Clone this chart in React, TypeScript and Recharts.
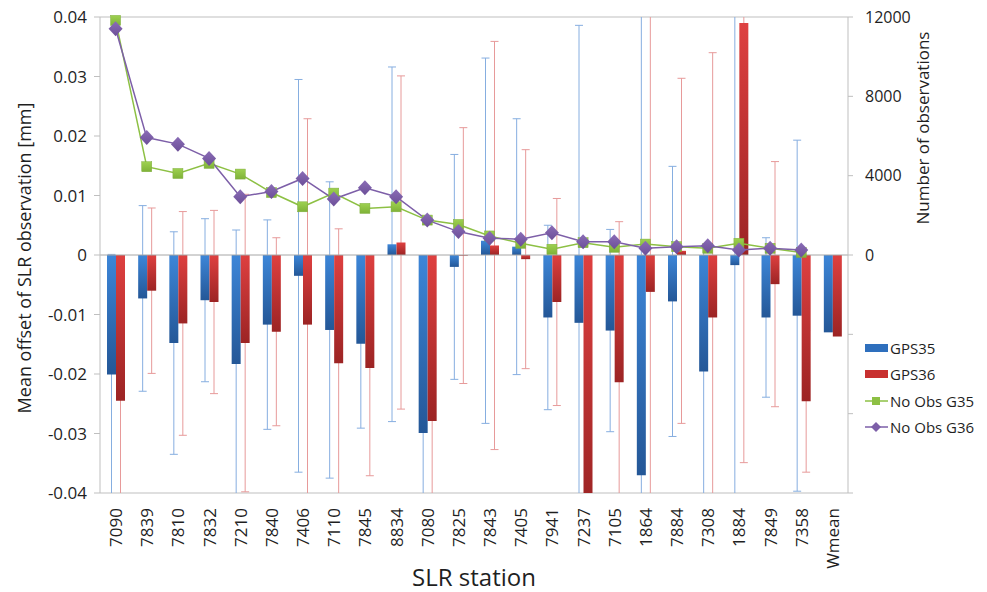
import React from 'react';
import {
  ComposedChart,
  Bar,
  Line,
  XAxis,
  YAxis,
  CartesianGrid,
  ReferenceLine,
  ErrorBar,
  Label,
} from 'recharts';

const stations = [
  '7090', '7839', '7810', '7832', '7210', '7840', '7406', '7110', '7845', '8834', '7080', '7825',
  '7843', '7405', '7941', '7237', '7105', '1864', '7884', '7308', '1884', '7849', '7358', 'Wmean',
];

// mean offsets [mm]
const gps35 = [
  -0.0201, -0.0073, -0.0148, -0.0076, -0.0183, -0.0117, -0.0035, -0.0126, -0.0149, 0.0018, -0.0299, -0.002,
  0.0024, 0.0014, -0.0105, -0.0114, -0.0127, -0.037, -0.0078, -0.0196, -0.0017, -0.0105, -0.0102, -0.013,
];
const gps36 = [
  -0.0245, -0.006, -0.0115, -0.0079, -0.0148, -0.0129, -0.0117, -0.0182, -0.019, 0.0021, -0.0279, -0.0001,
  0.0016, -0.0007, -0.0079, -0.042, -0.0214, -0.0062, 0.0007, -0.0105, 0.039, -0.0049, -0.0246, -0.0137,
];

// std dev (error bars)
const err35 = [
  0.0202, 0.0156, 0.0187, 0.0137, 0.0225, 0.0176, 0.033, 0.0249, 0.0142, 0.0298, 0.02, 0.0189,
  0.0307, 0.0215, 0.0155, 0.05, 0.017, 0.08, 0.0227, 0.021, 0.045, 0.0134, 0.0295, null,
];
const err36 = [
  0.02, 0.0139, 0.0188, 0.0154, 0.025, 0.0158, 0.0346, 0.0226, 0.0181, 0.028, 0.02, 0.0215,
  0.0343, 0.0184, 0.0174, 0.02, 0.027, 0.05, 0.029, 0.0445, 0.0739, 0.0206, 0.0119, null,
];

// number of observations
const obs35 = [
  11830, 4450, 4110, 4620, 4080, 3150, 2430, 3120, 2350, 2430, 1760, 1540,
  960, 590, 290, 620, 390, 550, 420, 340, 590, 340, 130, null,
];
const obs36 = [
  11410, 5920, 5590, 4870, 2940, 3200, 3860, 2820, 3390, 2940, 1760, 1180,
  840, 800, 1120, 670, 670, 340, 420, 470, 250, 340, 250, null,
];

const leftTicks = [-0.04, -0.03, -0.02, -0.01, 0, 0.01, 0.02, 0.03, 0.04];
const rightTicks = [-12000, -8000, -4000, 0, 4000, 8000, 12000];

const data = stations.map((station, i) => ({
  station,
  gps35: gps35[i],
  gps36: gps36[i],
  err35: err35[i],
  err36: err36[i],
  obs35: obs35[i],
  obs36: obs36[i],
}));

const FONT = '"Open Sans", sans-serif';
const axisGrey = '#bfbfbf';
const textColor = '#1f1f1f';

// plot area (used for clipping the error bars like Excel does)
const PLOT = { x: 100, y: 17, w: 748, h: 476 };

const XTick = (props: any) => {
  const { x, y, payload } = props;
  return (
    <text
      x={x}
      y={y}
      transform={`rotate(-90 ${x} ${y})`}
      textAnchor="end"
      dominantBaseline="central"
      fontSize={17}
      fill={textColor}
      fontFamily={FONT}
    >
      {payload.value}
    </text>
  );
};

const SquareDot = (props: any) => {
  const { cx, cy, index } = props;
  if (cx == null || cy == null) return <g key={`sq-${index}`} />;
  return (
    <rect key={`sq-${index}`} x={cx - 5} y={cy - 5} width={10} height={10} fill="url(#greenGrad)" stroke="#7fae3c" strokeWidth={0.5} />
  );
};

const DiamondDot = (props: any) => {
  const { cx, cy, index } = props;
  if (cx == null || cy == null) return <g key={`dm-${index}`} />;
  return (
    <polygon
      key={`dm-${index}`}
      points={`${cx},${cy - 7.5} ${cx + 7},${cy} ${cx},${cy + 7.5} ${cx - 7},${cy}`}
      fill="url(#purpleGrad)"
    />
  );
};

const legendItems = [
  { name: 'GPS35', kind: 'bar', color: '#2e6fbd' },
  { name: 'GPS36', kind: 'bar', color: '#c8302f' },
  { name: 'No Obs G35', kind: 'square', color: '#8dc044' },
  { name: 'No Obs G36', kind: 'diamond', color: '#7d5fa8' },
];

const ChartLegend = () => (
  <div style={{ position: 'absolute', left: 865, top: 335, fontFamily: FONT, fontSize: 15, color: textColor }}>
    {legendItems.map((it) => (
      <div key={it.name} style={{ display: 'flex', alignItems: 'center', height: 26.3 }}>
        <svg width={25} height={14}>
          {it.kind === 'bar' && <rect x={0} y={3} width={23} height={8} fill={it.color} />}
          {it.kind !== 'bar' && <line x1={0} y1={7} x2={23} y2={7} stroke={it.color} strokeWidth={1.5} />}
          {it.kind === 'square' && <rect x={7} y={3} width={8} height={8} fill={it.color} />}
          {it.kind === 'diamond' && <polygon points="11,2 16,7 11,12 6,7" fill={it.color} />}
        </svg>
        <span>{it.name}</span>
      </div>
    ))}
  </div>
);

// Two stacked charts with identical layout: the lower one draws the grid and the
// error bars, the upper one the bars, lines and axes, so the bars hide the whiskers.
const ChartLayer = ({ under }: { under: boolean }) => (
  <ComposedChart
    width={987}
    height={592}
    data={data}
    margin={{ top: 17, right: 0, bottom: 0, left: 0 }}
    barGap={0}
    style={{ fontFamily: FONT, position: 'absolute', left: 0, top: 0 }}
  >
    <defs>
      <clipPath id={under ? 'plotClip' : 'plotClipTop'} clipPathUnits="userSpaceOnUse">
        <rect x={PLOT.x} y={PLOT.y} width={PLOT.w} height={PLOT.h} />
      </clipPath>
      <linearGradient id="blueGrad" x1="0" y1="0" x2="0" y2="1">
        <stop offset="0%" stopColor="#3d86d8" />
        <stop offset="100%" stopColor="#245797" />
      </linearGradient>
      <linearGradient id="redGrad" x1="0" y1="0" x2="0" y2="1">
        <stop offset="0%" stopColor="#de4040" />
        <stop offset="100%" stopColor="#9c2424" />
      </linearGradient>
      <linearGradient id="greenGrad" x1="0" y1="0" x2="0" y2="1">
        <stop offset="0%" stopColor="#9ed150" />
        <stop offset="100%" stopColor="#7fb238" />
      </linearGradient>
      <linearGradient id="purpleGrad" x1="0" y1="0" x2="0" y2="1">
        <stop offset="0%" stopColor="#8a6cb6" />
        <stop offset="100%" stopColor="#6c4f98" />
      </linearGradient>
    </defs>
    {under && <CartesianGrid yAxisId="left" vertical={false} stroke={axisGrey} />}
    <XAxis
      dataKey="station"
      interval={0}
      height={99}
      tickLine={false}
      axisLine={false}
      tickSize={0}
      tickMargin={15}
      tick={under ? false : <XTick />}
    >
      {!under && (
        <Label
          content={() => (
            <text x={474} y={586} textAnchor="middle" fontSize={24} fill={textColor} fontFamily={FONT}>
              SLR station
            </text>
          )}
        />
      )}
    </XAxis>
    <YAxis
      yAxisId="left"
      domain={[-0.04, 0.04]}
      ticks={leftTicks}
      interval={0}
      allowDataOverflow
      width={100}
      tickSize={6}
      tickMargin={7}
      axisLine={under ? false : { stroke: axisGrey }}
      tickLine={under ? false : { stroke: axisGrey }}
      tick={under ? false : { fill: textColor, fontSize: 17 }}
      tickFormatter={(v: number) => (v === 0 ? '0' : v.toFixed(2))}
    >
      {!under && (
        <Label
          content={() => (
            <text
              x={24}
              y={258}
              transform="rotate(-90 24 258)"
              textAnchor="middle"
              dominantBaseline="central"
              fontSize={18}
              fill={textColor}
              fontFamily={FONT}
            >
              Mean offset of SLR observation [mm]
            </text>
          )}
        />
      )}
    </YAxis>
    <YAxis
      yAxisId="right"
      orientation="right"
      domain={[-12000, 12000]}
      ticks={rightTicks}
      interval={0}
      width={139}
      tickSize={5}
      tickMargin={12}
      axisLine={under ? false : { stroke: axisGrey }}
      tickLine={under ? false : { stroke: axisGrey }}
      tick={under ? false : { fill: textColor, fontSize: 16, textAnchor: 'start' }}
      tickFormatter={(v: number) => (v < 0 ? '' : String(v))}
    >
      {!under && (
        <Label
          content={() => (
            <text
              x={922}
              y={128}
              transform="rotate(-90 922 128)"
              textAnchor="middle"
              dominantBaseline="central"
              fontSize={17}
              fill={textColor}
              fontFamily={FONT}
            >
              Number of observations
            </text>
          )}
        />
      )}
    </YAxis>
    {!under && <ReferenceLine yAxisId="left" y={0} stroke="#a6a6a6" />}
    <Bar
      yAxisId="left"
      dataKey="gps35"
      name="GPS35"
      fill={under ? 'transparent' : 'url(#blueGrad)'}
      barSize={9}
      isAnimationActive={false}
    >
      {under && <ErrorBar dataKey="err35" width={4} stroke="#86aee0" strokeWidth={1} />}
    </Bar>
    <Bar
      yAxisId="left"
      dataKey="gps36"
      name="GPS36"
      fill={under ? 'transparent' : 'url(#redGrad)'}
      barSize={9}
      isAnimationActive={false}
    >
      {under && <ErrorBar dataKey="err36" width={4} stroke="#e79a9a" strokeWidth={1} />}
    </Bar>
    {!under && (
      <Line
        yAxisId="right"
        dataKey="obs35"
        name="No Obs G35"
        stroke="#8dc044"
        strokeWidth={1.5}
        dot={SquareDot}
        activeDot={false}
        isAnimationActive={false}
      />
    )}
    {!under && (
      <Line
        yAxisId="right"
        dataKey="obs36"
        name="No Obs G36"
        stroke="#7d5fa8"
        strokeWidth={1.5}
        dot={DiamondDot}
        activeDot={false}
        isAnimationActive={false}
      />
    )}
  </ComposedChart>
);

export default function App() {
  return (
    <div style={{ position: 'absolute', left: 0, top: 0, width: 987, height: 592, background: '#fff' }}>
      <style>{'.recharts-errorBars, .recharts-errorBar { clip-path: url(#plotClip); }'}</style>
      <ChartLayer under />
      <ChartLayer under={false} />
      <ChartLegend />
    </div>
  );
}
